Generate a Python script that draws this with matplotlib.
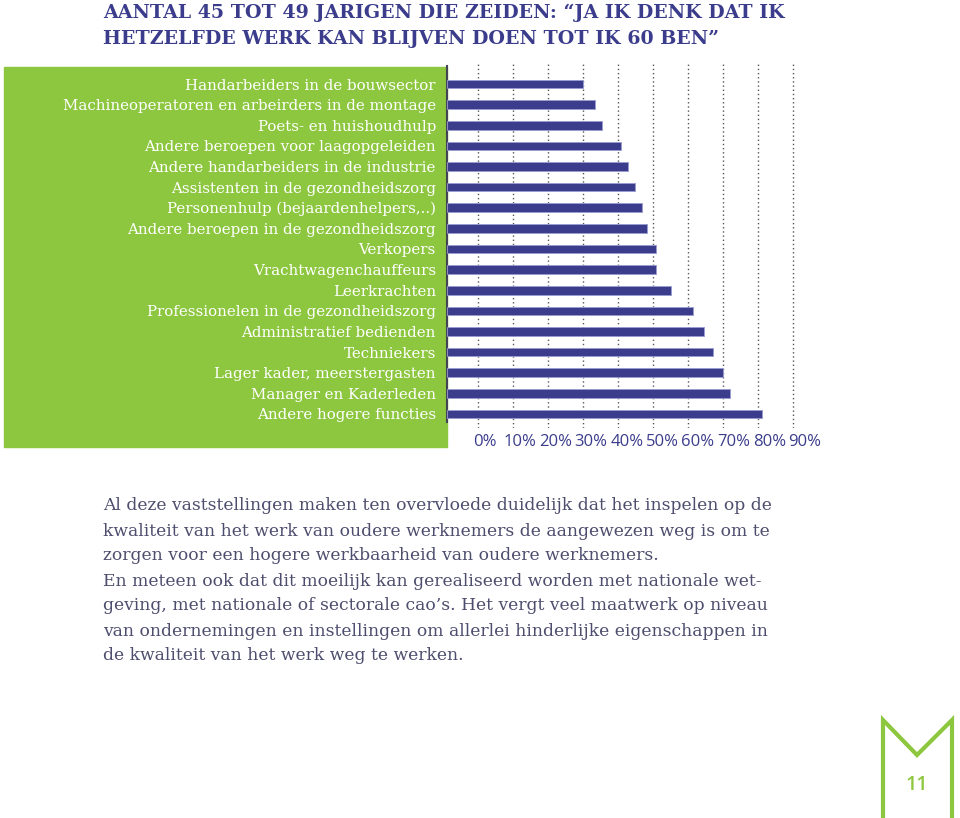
import numpy as np
import matplotlib.pyplot as plt
from matplotlib.patches import Rectangle
from matplotlib.lines import Line2D
import matplotlib.transforms as mtransforms

# data
beroepen = [
    "Handarbeiders in de bouwsector",
    "Machineoperatoren en arbeirders in de montage",
    "Poets- en huishoudhulp",
    "Andere beroepen voor laagopgeleiden",
    "Andere handarbeiders in de industrie",
    "Assistenten in de gezondheidszorg",
    "Personenhulp (bejaardenhelpers,..)",
    "Andere beroepen in de gezondheidszorg",
    "Verkopers",
    "Vrachtwagenchauffeurs",
    "Leerkrachten",
    "Professionelen in de gezondheidszorg",
    "Administratief bedienden",
    "Techniekers",
    "Lager kader, meerstergasten",
    "Manager en Kaderleden",
    "Andere hogere functies",
]
percentages = [30.1, 33.5, 35.5, 40.8, 42.9, 44.9, 47.0, 48.3, 50.8, 50.8,
               55.1, 61.4, 64.5, 67.3, 70.1, 72.2, 81.3]
ticks = [0, 10, 20, 30, 40, 50, 60, 70, 80, 90]
tick_labels = [f"{t}%" for t in ticks]

title_lines = [
    "AANTAL 45 TOT 49 JARIGEN DIE ZEIDEN: \u201cJA IK DENK DAT IK",
    "HETZELFDE WERK KAN BLIJVEN DOEN TOT IK 60 BEN\u201d",
]
paragraph = [
    "Al deze vaststellingen maken ten overvloede duidelijk dat het inspelen op de",
    "kwaliteit van het werk van oudere werknemers de aangewezen weg is om te",
    "zorgen voor een hogere werkbaarheid van oudere werknemers.",
    "En meteen ook dat dit moeilijk kan gerealiseerd worden met nationale wet-",
    "geving, met nationale of sectorale cao\u2019s. Het vergt veel maatwerk op niveau",
    "van ondernemingen en instellingen om allerlei hinderlijke eigenschappen in",
    "de kwaliteit van het werk weg te werken.",
]
page_number = "11"

navy = "#3b3d8c"
green = "#8dc63f"
text_grey = "#4d4d6e"
serif = "DejaVu Serif"

W, H = 960, 818
fig = plt.figure(figsize=(W / 100, H / 100), dpi=100)

def fx(px):
    return px / W

def fy(py):
    return 1 - py / H

# green label panel
fig.add_artist(Rectangle((fx(4), fy(447)), fx(447) - fx(4), fy(67) - fy(447),
                         transform=fig.transFigure, color=green, zorder=0))

# chart axes
x0 = -9
left, right, top, bottom = 447, 810, 64, 428
ax = fig.add_axes([fx(left), fy(bottom), fx(right) - fx(left), fy(top) - fy(bottom)])
ax.set_facecolor("none")
ypos = np.arange(len(beroepen))
ax.barh(ypos, np.array(percentages) - x0, left=x0, height=0.42,
        color=navy, edgecolor="#9a9cd0", linewidth=0.6, zorder=3)
ax.set_xlim(x0, 95)
ax.set_ylim(16.68, -0.97)
ax.set_xticks(ticks)
ax.set_xticklabels([])
ax.tick_params(axis="x", length=0)
# percentage labels sit a little right of their gridlines, as in the original
lab_tr = mtransforms.blended_transform_factory(ax.transData, ax.transAxes) + \
    mtransforms.ScaledTranslation(6 / 100, 0, fig.dpi_scale_trans)
for t, lab in zip(ticks, tick_labels):
    ax.text(t * 1.02, -0.038, lab, transform=lab_tr, ha="center", va="center",
            fontsize=12, color=navy, family="Open Sans")
ax.set_yticks(ypos)
ax.set_yticklabels(beroepen, fontsize=10.8, color="white", family=serif)
ax.tick_params(axis="y", length=0, pad=8)
ax.grid(axis="x", linestyle=(0, (1, 2)), color="#555555", linewidth=1, zorder=1)
for s in ["top", "right", "bottom"]:
    ax.spines[s].set_visible(False)
ax.spines["left"].set_color("#444455")
ax.spines["left"].set_linewidth(1.5)
ax.spines["left"].set_bounds(16.39, -0.87)

# title
for i, line in enumerate(title_lines):
    fig.text(fx(103), fy(13 + 26 * i), line, fontsize=13.7, fontweight="bold",
             family=serif, color=navy, va="center", ha="left")

# body text
for i, line in enumerate(paragraph):
    fig.text(fx(103), fy(506 + 25 * i), line, fontsize=12.3,
             family=serif, color=text_grey, va="center", ha="left")

# page logo
lw = 3
fig.add_artist(Line2D([fx(883), fx(883), fx(917), fx(952), fx(952)],
                      [fy(818), fy(720), fy(755), fy(720), fy(818)],
                      transform=fig.transFigure, color=green, linewidth=lw,
                      solid_joinstyle="miter"))
fig.text(fx(917), fy(785), page_number, fontsize=14, color=green,
         family="Open Sans", fontweight="semibold", ha="center", va="center")

fig.savefig("out.png", dpi=100)
